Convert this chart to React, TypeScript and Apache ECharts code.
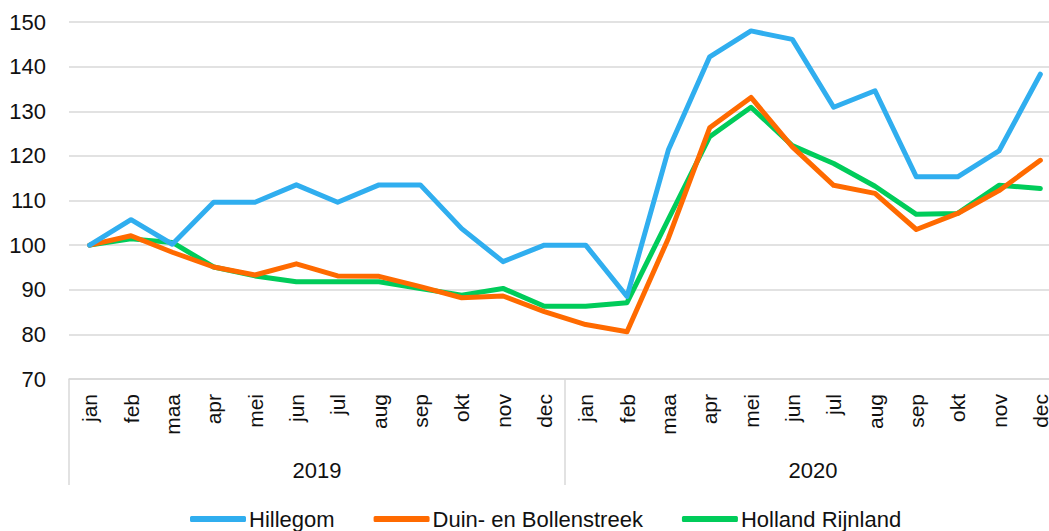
import React, { useEffect, useRef } from "react";
import * as echarts from "echarts";

const months = ["jan", "feb", "maa", "apr", "mei", "jun", "jul", "aug", "sep", "okt", "nov", "dec"];
const years = ["2019", "2020"];
const categories = [...months, ...months];

const hillegom = [100, 105.7, 100.2, 109.6, 109.6, 113.5, 109.6, 113.5, 113.5, 103.7, 96.3, 100,
  100, 88.5, 121.3, 142.2, 148.0, 146.1, 130.9, 134.6, 115.3, 115.3, 121.1, 138.3];
const duin = [100, 102.1, 98.4, 95.1, 93.3, 95.8, 93.1, 93.0, 90.7, 88.2, 88.6, 85.1,
  82.2, 80.6, 101.5, 126.3, 133.1, 122.0, 113.4, 111.6, 103.5, 107.1, 112.2, 119.0];
const holland = [100, 101.4, 100.6, 95.1, 93.1, 91.8, 91.8, 91.8, 90.3, 88.8, 90.3, 86.3,
  86.3, 87.1, 105.8, 124.3, 130.9, 122.3, 118.3, 113.2, 106.9, 107.1, 113.4, 112.7];

const seriesNames = ["Hillegom", "Duin- en Bollenstreek", "Holland Rijnland"];
const colors = ["#30AEEF", "#FF6A00", "#00CC5A"];

const FONT = "Liberation Sans";

export default function App() {
  const ref = useRef<HTMLDivElement>(null);
  useEffect(() => {
    document.body.style.margin = "0";
    document.body.style.overflow = "hidden";
    document.documentElement.style.overflow = "hidden";
    const chart = echarts.init(ref.current!, null, { renderer: "svg" });
    const data = [hillegom, duin, holland];
    chart.setOption({
      animation: false,
      grid: { left: 69, top: 22, right: 9, bottom: 152 },
      legend: {
        left: 185,
        top: 503,
        itemWidth: 56,
        itemHeight: 6,
        itemGap: 39,
        icon: "roundRect",
        textStyle: { fontFamily: FONT, fontSize: 22, color: "#111", padding: [0, 0, 0, -2] },
        data: seriesNames,
      },
      xAxis: [
        {
          type: "category",
          data: categories,
          boundaryGap: true,
          axisLine: { show: true, lineStyle: { color: "#d9d9d9", width: 1.5 } },
          axisTick: { show: false },
          axisLabel: {
            interval: 0,
            rotate: 90,
            margin: 15,
            fontFamily: FONT,
            fontSize: 21,
            color: "#111",
          },
        },
        {
          type: "category",
          data: years,
          position: "bottom",
          boundaryGap: true,
          axisLine: { show: false },
          axisTick: { show: true, length: 106, interval: 0, lineStyle: { color: "#d9d9d9", width: 1.5 } },
          axisLabel: { margin: 80, fontFamily: FONT, fontSize: 22, color: "#111" },
        },
      ],
      yAxis: {
        type: "value",
        min: 70,
        max: 150,
        interval: 10,
        axisLine: { show: false },
        axisTick: { show: false },
        splitLine: { lineStyle: { color: "#d9d9d9", width: 1.5 } },
        axisLabel: { margin: 23, fontFamily: FONT, fontSize: 22, color: "#111" },
      },
      series: seriesNames.map((name, i) => ({
        name,
        type: "line",
        data: data[i],
        symbol: "none",
        color: colors[i],
        lineStyle: { width: 5, color: colors[i], cap: "round", join: "round" },
        z: 3 - i,
      })),
    });
    return () => chart.dispose();
  }, []);
  return <div ref={ref} style={{ width: 1070, height: 531 }} />;
}
